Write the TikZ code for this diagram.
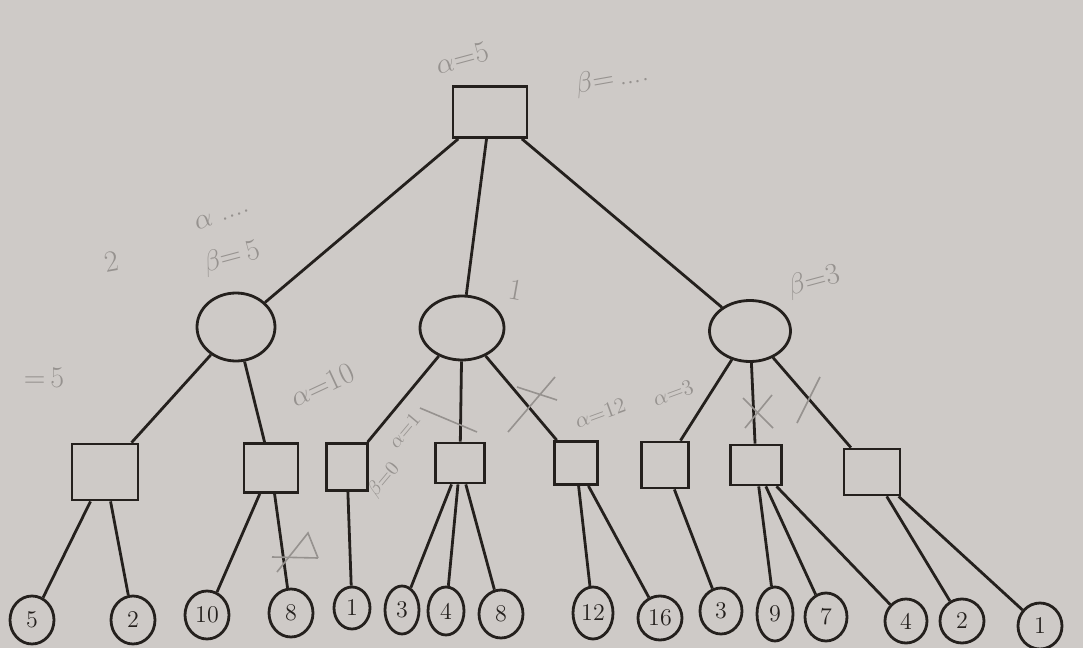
\documentclass[tikz,border=0pt]{standalone}
\usetikzlibrary{shapes.geometric}
\definecolor{paper}{RGB}{206,202,199}
\definecolor{ink}{RGB}{36,32,29}
\definecolor{pencil}{RGB}{150,146,143}
\begin{document}
\begin{tikzpicture}[x=0.5pt,y=-0.5pt,
  maxbox/.style={draw=ink,line width=1.4pt,rectangle,inner sep=0pt},
  minnode/.style={draw=ink,line width=1.4pt,ellipse,inner sep=0pt},
  leaf/.style={draw=ink,line width=1.4pt,ellipse,inner sep=0pt,
    minimum width=22pt,minimum height=24pt,text=ink,
    font=\fontsize{12}{14}\selectfont},
  edge/.style={draw=ink,line width=1.4pt},
  note/.style={text=pencil,font=\fontsize{15}{17}\selectfont},
  cut/.style={draw=pencil,line width=0.8pt}]
\fill[paper] (0,0) rectangle (1083,648);
\useasboundingbox (0,0) rectangle (1083,648);

% root (max)
\node[maxbox,minimum width=37pt,minimum height=25.5pt] (root) at (490,112) {};

% min level
\node[minnode,minimum width=39pt,minimum height=34pt]   (mL) at (236,327) {};
\node[minnode,minimum width=42pt,minimum height=32pt]   (mM) at (462,328) {};
\node[minnode,minimum width=40.5pt,minimum height=30.5pt] (mR) at (750,331) {};

% max level
\node[maxbox,minimum width=33pt,minimum height=28pt]     (s1) at (105,472) {};
\node[maxbox,minimum width=27pt,minimum height=24.5pt]   (s2) at (271,468) {};
\node[maxbox,minimum width=20.5pt,minimum height=23.5pt] (s3) at (347,467) {};
\node[maxbox,minimum width=24.5pt,minimum height=20pt]   (s4) at (460,463) {};
\node[maxbox,minimum width=21.5pt,minimum height=21.5pt] (s5) at (576,463) {};
\node[maxbox,minimum width=23.5pt,minimum height=23pt]   (s6) at (665,465) {};
\node[maxbox,minimum width=25.5pt,minimum height=20pt]   (s7) at (756,465) {};
\node[maxbox,minimum width=28pt,minimum height=23pt]     (s8) at (872,472) {};

% terminal values
\node[leaf] (l1)  at (32,620)   {5};
\node[leaf] (l2)  at (133,620)  {2};
\node[leaf] (l3)  at (207,615)  {10};
\node[leaf] (l4)  at (291,613)  {8};
\node[leaf,minimum width=18pt,minimum height=21pt] (l5) at (352,608) {1};
\node[leaf,minimum width=17pt] (l6)  at (402,610)  {3};
\node[leaf,minimum width=18pt] (l7)  at (446,611)  {4};
\node[leaf] (l8)  at (501,614)  {8};
\node[leaf,minimum width=20pt,minimum height=26pt] (l9) at (593,613) {12};
\node[leaf,minimum height=22pt] (l10) at (660,618) {16};
\node[leaf,minimum width=21pt,minimum height=23pt] (l11) at (721,611) {3};
\node[leaf,minimum width=18pt,minimum height=27pt] (l12) at (775,614) {9};
\node[leaf,minimum width=21pt] (l13) at (826,617) {7};
\node[leaf,minimum width=21pt,minimum height=22pt] (l14) at (906,621) {4};
\node[leaf,minimum height=22pt] (l15) at (962,621) {2};
\node[leaf,minimum height=23pt] (l16) at (1040,626) {1};

% tree edges
\foreach \a/\b in {root/mL,root/mM,root/mR,
                   mL/s1,mL/s2,mM/s3,mM/s4,mM/s5,mR/s6,mR/s7,mR/s8,
                   s1/l1,s1/l2,s2/l3,s2/l4,s3/l5,s4/l6,s4/l7,s4/l8,
                   s5/l9,s5/l10,s6/l11,s7/l12,s7/l13,s7/l14,s8/l15,s8/l16}
  \draw[edge] (\a) -- (\b);

% pencil notes
\node[note,rotate=15] (n1) at (462,58)  {$\alpha$=5};
\node[note,rotate=10] (n2) at (612,80)  {$\beta$=\,....};
\node[note,rotate=20] (n3) at (222,215) {$\alpha$ ....};
\node[note,rotate=15] (n4) at (232,258) {$\beta$=\,5};
\node[note,rotate=10] (n5) at (112,262) {2};
\node[note] (n6) at (44,378)  {=\,5};
\node[note,rotate=25] (n7) at (322,385) {$\alpha$=10};
\node[note,rotate=50,font=\fontsize{10}{12}\selectfont] (n8) at (404,430) {$\alpha$=1};
\node[note,rotate=50,font=\fontsize{10}{12}\selectfont] (n9) at (384,480) {$\beta$=0};
\node[note,rotate=-10] (n10) at (516,290) {1};
\node[note,rotate=20,font=\fontsize{11}{13}\selectfont] (n11) at (600,413) {$\alpha$=12};
\node[note,rotate=20,font=\fontsize{11}{13}\selectfont] (n12) at (673,393) {$\alpha$=3};
\node[note,rotate=15] (n13) at (814,282) {$\beta$=3};

% pruning marks
\draw[cut] (420,408) -- (477,432);
\draw[cut] (508,432) -- (555,377);
\draw[cut] (517,387) -- (557,400);
\draw[cut] (743,398) -- (773,428);
\draw[cut] (745,428) -- (772,395);
\draw[cut] (797,423) -- (820,377);
\draw[cut] (272,557) -- (318,558);
\draw[cut] (277,572) -- (308,533) -- (318,558);
\end{tikzpicture}
\end{document}
